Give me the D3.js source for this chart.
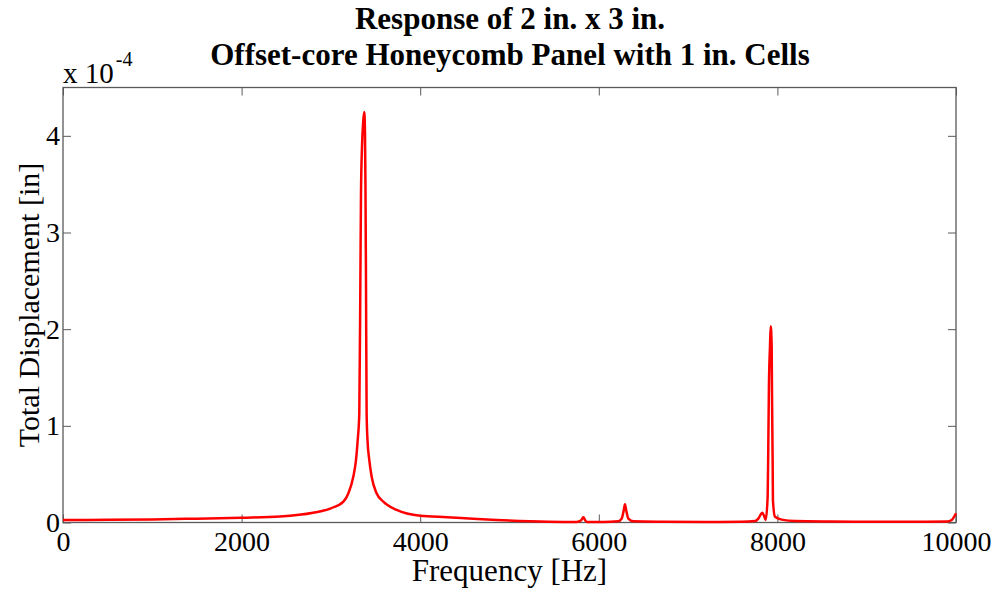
<!DOCTYPE html>
<html>
<head>
<meta charset="utf-8">
<script src="https://cdn.jsdelivr.net/npm/d3@7"></script>
<style>
  html, body { margin: 0; padding: 0; background: #fff; }
  svg { display: block; }
  text { font-family: "Liberation Serif", "Times New Roman", serif; fill: #000; }
</style>
</head>
<body>
<svg id="chart" width="1003" height="592"></svg>
<script>
// Frequency response of the panel: frequency [Hz] and total displacement [x 1e-4 in]
const freqHz = [
  0, 500, 1000, 1500, 2000, 2430, 2800, 3000, 3140, 3195, 3250, 3281, 3300,
  3318, 3330, 3337, 3348, 3362, 3374, 3382, 3387, 3393, 3400, 3410, 3430,
  3457, 3513, 3587, 3737, 4000, 4300, 4500, 4857, 5230, 5600, 5752, 5800,
  5827, 5850, 5870, 6050, 6218, 6256, 6280, 6293, 6306, 6331, 6387, 6720,
  7200, 7600, 7749, 7786, 7815, 7831, 7850, 7869, 7891, 7898, 7905, 7917,
  7925, 7936, 7939, 7947, 7950, 7973, 8048, 8200, 8600, 9000, 9500, 9900,
  9952, 9980, 10000
];
const dispE4 = [
  0.026, 0.028, 0.032, 0.040, 0.050, 0.062, 0.100, 0.147, 0.215, 0.300, 0.470, 0.646, 0.850,
  1.130, 2.500, 3.400, 3.880, 4.150, 4.246, 4.000, 3.500, 2.500, 1.130, 0.850, 0.646,
  0.470, 0.300, 0.215, 0.130, 0.070, 0.055, 0.045, 0.026, 0.012, 0.006, 0.006, 0.020,
  0.054, 0.020, 0.005, 0.005, 0.012, 0.040, 0.130, 0.190, 0.130, 0.040, 0.012, 0.008,
  0.006, 0.008, 0.015, 0.040, 0.085, 0.100, 0.070, 0.025, 0.270, 0.780, 1.400, 1.820,
  2.030, 1.820, 1.400, 0.610, 0.230, 0.060, 0.030, 0.015, 0.010, 0.008, 0.008, 0.010,
  0.026, 0.060, 0.095
];

const xTicks = [0, 2000, 4000, 6000, 8000, 10000];
const yTicks = [0, 1, 2, 3, 4];
const titleLines = ["Response of 2 in. x 3 in.", "Offset-core Honeycomb Panel with 1 in. Cells"];
const xLabel = "Frequency [Hz]";
const yLabel = "Total Displacement [in]";

const svg = d3.select("#chart");
const box = { left: 63, right: 956, top: 87.5, bottom: 522.5 };

const x = d3.scaleLinear().domain([0, 10000]).range([box.left, box.right]);
const y = d3.scaleLinear().domain([0, 4.5]).range([box.bottom, box.top]);

const axisColor = "#5a5a5a";
const tickLen = 8;

// axes with inward ticks on all four sides
const styleAxis = g => {
  g.selectAll(".domain").remove();
  g.selectAll(".tick line").attr("stroke", axisColor).attr("stroke-width", 1);
  g.selectAll(".tick text").attr("font-size", 28).attr("fill", "#000")
    .attr("font-family", "'Liberation Serif', 'Times New Roman', serif");
};

svg.append("g")
  .attr("transform", `translate(0,${box.bottom})`)
  .call(d3.axisBottom(x).tickValues(xTicks).tickFormat(d3.format("d"))
    .tickSizeInner(-tickLen).tickSizeOuter(0).tickPadding(9))
  .call(styleAxis);

svg.append("g")
  .attr("transform", `translate(0,${box.top})`)
  .call(d3.axisTop(x).tickValues(xTicks).tickFormat("")
    .tickSizeInner(-tickLen).tickSizeOuter(0))
  .call(styleAxis);

svg.append("g")
  .attr("transform", `translate(${box.left},0)`)
  .call(d3.axisLeft(y).tickValues(yTicks).tickFormat(d3.format("d"))
    .tickSizeInner(-tickLen).tickSizeOuter(0).tickPadding(3))
  .call(styleAxis);

svg.append("g")
  .attr("transform", `translate(${box.right},0)`)
  .call(d3.axisRight(y).tickValues(yTicks).tickFormat("")
    .tickSizeInner(-tickLen).tickSizeOuter(0))
  .call(styleAxis);

// plot frame
svg.append("rect")
  .attr("x", box.left).attr("y", box.top)
  .attr("width", box.right - box.left).attr("height", box.bottom - box.top)
  .attr("fill", "none").attr("stroke", axisColor).attr("stroke-width", 1.3);

// response curve
const data = freqHz.map((f, i) => ({ f, d: dispE4[i] }));
const line = d3.line().x(p => x(p.f)).y(p => y(p.d)).curve(d3.curveMonotoneX);
svg.append("path")
  .datum(data)
  .attr("d", line)
  .attr("fill", "none")
  .attr("stroke", "#ff0000")
  .attr("stroke-width", 2.5)
  .attr("stroke-linejoin", "round");

// exponent label
const expo = svg.append("text")
  .attr("x", box.left).attr("y", 83)
  .attr("font-size", 29);
expo.append("tspan").text("x 10");
expo.append("tspan").attr("font-size", 20).attr("dx", 2).attr("dy", -17).text("-4");

// title
svg.append("text")
  .attr("x", 510).attr("text-anchor", "middle")
  .attr("font-size", 31).attr("font-weight", "bold")
  .selectAll("tspan").data(titleLines).join("tspan")
  .attr("x", 510).attr("y", (d, i) => 29 + i * 36).text(d => d);

// axis labels
svg.append("text")
  .attr("x", (box.left + box.right) / 2).attr("y", 581)
  .attr("text-anchor", "middle").attr("font-size", 31)
  .text(xLabel);

svg.append("text")
  .attr("transform", `translate(39,${(box.top + box.bottom) / 2}) rotate(-90)`)
  .attr("text-anchor", "middle").attr("font-size", 30)
  .text(yLabel);
</script>
</body>
</html>
